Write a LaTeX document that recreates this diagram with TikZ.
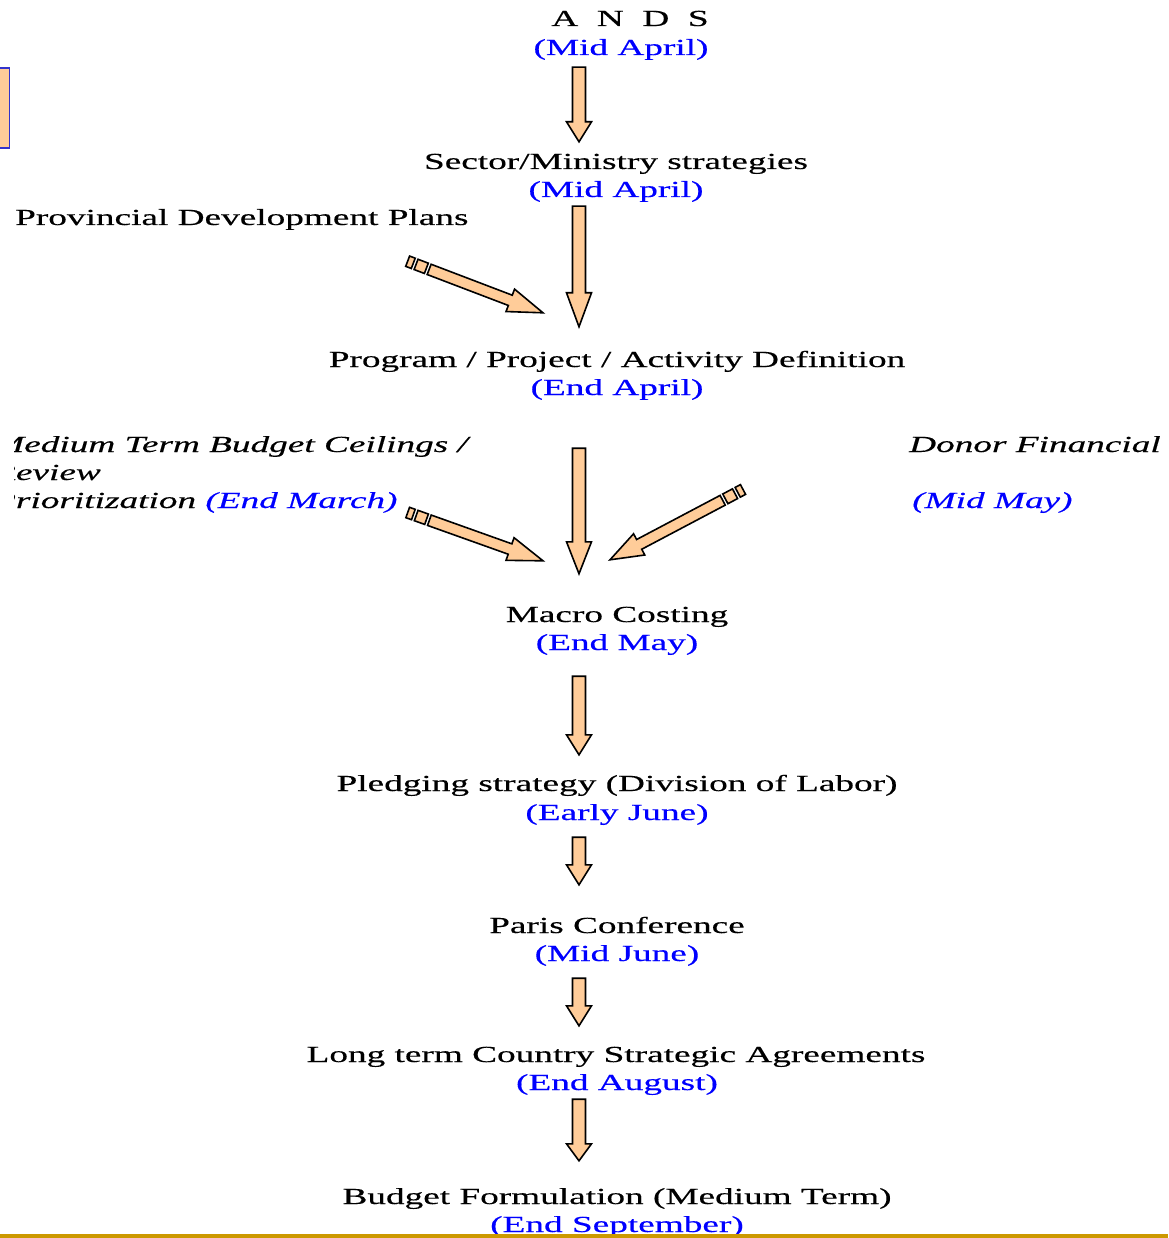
\documentclass[tikz,border=0pt]{standalone}
\usepackage{fontspec}
\setmainfont[FakeStretch=1.62, FakeBold=0.4]{Liberation Serif}
\usepackage{tikz}
\usetikzlibrary{calc}

\definecolor{peach}{HTML}{FFCC99}
\definecolor{dateblue}{HTML}{0000FF}
\definecolor{boxblue}{HTML}{3333CC}
\definecolor{rulegold}{HTML}{CC9900}

\tikzset{
  lbl/.style={inner sep=0pt, anchor=base, text height=16pt, text depth=5pt,
    font=\fontsize{23}{28}\selectfont},
  dte/.style={lbl, text=dateblue},
  side/.style={lbl, anchor=base west, font=\fontsize{23}{28}\selectfont\itshape},
  arrowbox/.style={draw=black, fill=peach, line width=1.6pt, line join=miter},
}

\def\shaftw{6.5pt}
\def\headw{12.5pt}

% block arrow: tail, tip, head length
\newcommand{\blockarrow}[3]{%
  \coordinate (ba-t) at (#1);
  \coordinate (ba-p) at (#2);
  \coordinate (ba-h) at ($(ba-p)!#3!(ba-t)$);
  \draw[arrowbox] ($(ba-t)!\shaftw!90:(ba-p)$) -- ($(ba-h)!\shaftw!-90:(ba-t)$)
    -- ($(ba-h)!\headw!-90:(ba-t)$) -- (ba-p) -- ($(ba-h)!\headw!90:(ba-t)$)
    -- ($(ba-h)!\shaftw!90:(ba-t)$) -- ($(ba-t)!\shaftw!-90:(ba-p)$) -- cycle;
}

% same with two stripes at the tail
\newcommand{\stripedarrow}[3]{%
  \coordinate (sa-t) at (#1);
  \coordinate (sa-p) at (#2);
  \coordinate (sa-a) at ($(sa-t)!6pt!(sa-p)$);
  \coordinate (sa-b) at ($(sa-t)!9pt!(sa-p)$);
  \coordinate (sa-c) at ($(sa-t)!20pt!(sa-p)$);
  \coordinate (sa-s) at ($(sa-t)!23pt!(sa-p)$);
  \draw[arrowbox] ($(sa-t)!\shaftw!90:(sa-p)$) -- ($(sa-a)!\shaftw!-90:(sa-t)$)
    -- ($(sa-a)!\shaftw!90:(sa-t)$) -- ($(sa-t)!\shaftw!-90:(sa-p)$) -- cycle;
  \draw[arrowbox] ($(sa-b)!\shaftw!90:(sa-p)$) -- ($(sa-c)!\shaftw!-90:(sa-b)$)
    -- ($(sa-c)!\shaftw!90:(sa-b)$) -- ($(sa-b)!\shaftw!-90:(sa-p)$) -- cycle;
  \blockarrow{sa-s}{sa-p}{#3}
}

\begin{document}
\begin{tikzpicture}[x=1pt, y=-1pt]
    \useasboundingbox (0,0) rectangle (1168,1238);

    \draw[fill=peach, draw=boxblue, line width=1.5pt] (-5,68) rectangle (9.5,148);

    \node[lbl] (ands) at (630, 26) {A\ \ N\ \ D\ \ S};
    \node[dte] (andsd) at (621, 55) {(Mid April)};

    \node[lbl] (sector) at (616, 169) {Sector/Ministry strategies};
    \node[dte] (sectord) at (616, 197) {(Mid April)};

    \node[lbl, anchor=base west] (prov) at (15, 225) {Provincial Development Plans};

    \node[lbl] (prog) at (617, 367) {Program / Project / Activity Definition};
    \node[dte] (progd) at (617, 395) {(End April)};

    \begin{scope}
        \clip (14,400) rectangle (520,530);
        \node[side] (med1) at (-7, 452) {Medium Term Budget Ceilings /};
        \node[side] (med2) at (-7, 480) {Review};
        \node[side] (med3) at (-7, 508) {Prioritization \textcolor{dateblue}{(End March)}};
    \end{scope}

    \node[side] (donor) at (909, 452) {Donor Financial};
    \node[side, text=dateblue] (donord) at (912, 508) {(Mid May)};

    \node[lbl] (macro) at (617, 622) {Macro Costing};
    \node[dte] (macrod) at (617, 650) {(End May)};

    \node[lbl] (pledge) at (617, 791) {Pledging strategy (Division of Labor)};
    \node[dte] (pledged) at (617, 820) {(Early June)};

    \node[lbl] (paris) at (617, 933) {Paris Conference};
    \node[dte] (parisd) at (617, 961) {(Mid June)};

    \node[lbl] (long) at (616, 1062) {Long term Country Strategic Agreements};
    \node[dte] (longd) at (617, 1090) {(End August)};

    \node[lbl] (budget) at (617, 1204) {Budget Formulation (Medium Term)};
    \node[dte] (budgetd) at (617, 1232) {(End September)};

    \coordinate (axis) at (579, 0);

    \blockarrow{$(andsd.south -| axis)+(0,7)$}{$(sector.north -| axis)+(0,-11)$}{20pt}
    \blockarrow{$(sectord.south -| axis)+(0,4)$}{$(prog.north -| axis)+(0,-24)$}{34pt}
    \blockarrow{$(progd.south -| axis)+(0,48)$}{$(macro.north -| axis)+(0,-32)$}{32pt}
    \blockarrow{$(macrod.south -| axis)+(0,21)$}{$(pledge.north -| axis)+(0,-20)$}{20pt}
    \blockarrow{$(pledged.south -| axis)+(0,12)$}{$(paris.north -| axis)+(0,-32)$}{20pt}
    \blockarrow{$(parisd.south -| axis)+(0,12)$}{$(long.north -| axis)+(0,-20)$}{20pt}
    \blockarrow{$(longd.south -| axis)+(0,4)$}{$(budget.north -| axis)+(0,-27)$}{17pt}

    {
    \def\shaftw{5.5pt}
    \def\headw{12pt}
    \stripedarrow{$(prov.south east)+(-61,31)$}{$(prog.north -| axis)+(-36,-38)$}{35pt}
    \stripedarrow{$(med3.east)+(10,10)$}{$(macro.north -| axis)+(-36,-45)$}{35pt}
    \stripedarrow{$(donord.west)+(-169,-13)$}{$(macro.north -| axis)+(31,-46)$}{33pt}
    }

    \draw[rulegold, line width=4pt] (0,1236) -- (1168,1236);
\end{tikzpicture}
\end{document}
